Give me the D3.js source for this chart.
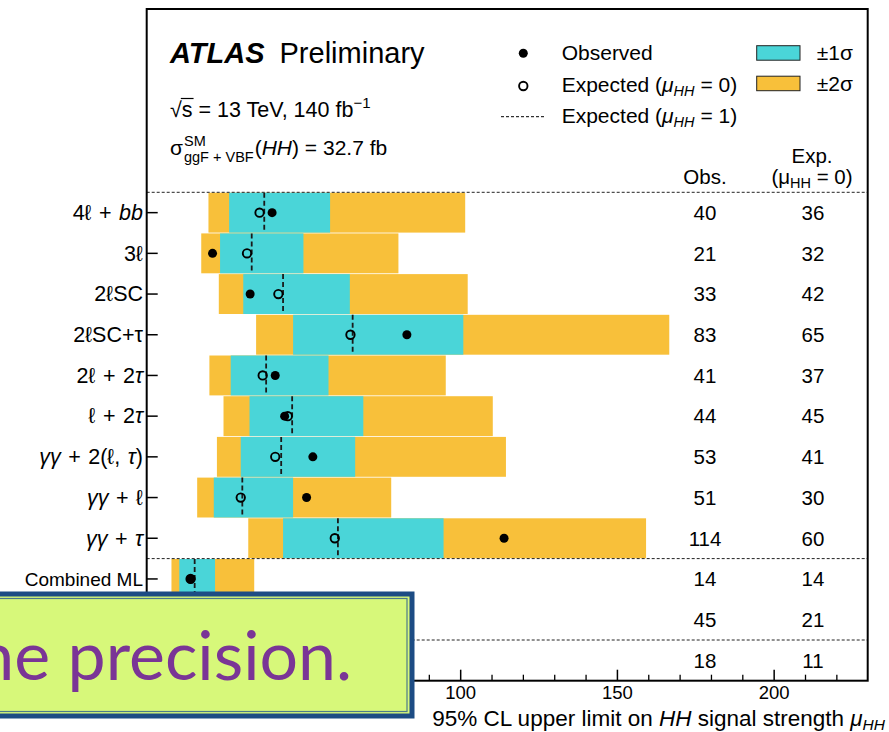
<!DOCTYPE html>
<html>
<head>
<meta charset="utf-8">
<script src="https://cdn.jsdelivr.net/npm/d3@7"></script>
<style>
  body { margin: 0; background: #fff; }
  svg { display: block; }
  text { font-family: "Liberation Sans", Arial, Helvetica, sans-serif; fill: #000; }
</style>
</head>
<body>
<svg id="chart" width="889" height="732"></svg>
<script>
// Analysis channels (rich text: <i>..</i> = italic)
const channels = [
  "4ℓ + <i>bb</i>", "3ℓ", "2ℓSC", "2ℓSC+τ", "2ℓ + 2<i>τ</i>", "ℓ + 2<i>τ</i>",
  "<i>γγ</i> + 2(ℓ, <i>τ</i>)", "<i>γγ</i> + ℓ", "<i>γγ</i> + <i>τ</i>",
  "Combined ML", "Combined CB", "Combined"
];
// Labels drawn in plain text (not math) style
const plainLabels = ["Combined ML", "Combined CB", "Combined"];
// 95% CL upper limits on mu_HH
const observed    = [40, 21, 33, 83, 41, 44, 53, 51, 114, 14, 45, 18];
const expectedBkg = [36, 32, 42, 65, 37, 45, 41, 30, 60, 14, 21, 11];   // mu_HH = 0
const expectedSig = [37.5, 33.5, 43.5, 65.7, 38.1, 46.4, 42.9, 30.5, 61, 15.3, 22.5, 11.8]; // mu_HH = 1
// Expected (mu_HH = 0) bands
const minus2sigma = [19.7, 17.4, 23, 34.9, 20, 24.5, 22.4, 16.1, 32.4, 7.9, 11.3, 5.9];
const minus1sigma = [26.3, 23.4, 30.8, 46.7, 26.8, 32.8, 30, 21.4, 43.5, 10.4, 15.1, 7.9];
const plus1sigma  = [58.5, 50, 64.8, 101, 58, 69.1, 66.5, 46.7, 94.7, 21.8, 31.5, 16.5];
const plus2sigma  = [101.6, 80.3, 102.4, 166.7, 95.4, 110.4, 114.6, 78, 159.3, 34.3, 44, 24];
// Axis
const majorTicks = [0, 50, 100, 150, 200];
const minorTicks = [10, 20, 30, 40, 60, 70, 80, 90, 110, 120, 130, 140, 160, 170, 180, 190, 210, 220];
// Groups separated by dashed rules (index of first row of each group)
const groupStarts = [0, 9, 11];

const C1 = "#4ad5d8", C2 = "#f8c03a";
const svg = d3.select("#chart");
const frame = { l: 146.7, t: 9, r: 867.7, b: 680.7 };

const x = d3.scaleLinear().domain([0, 230]).range([frame.l, frame.r]);
const y = d3.scaleBand().domain(d3.range(channels.length))
  .range([192.3, frame.b]).paddingInner(0.02).paddingOuter(0.01);
const yc = i => y(i) + y.bandwidth() / 2;

// rich text helper
function rich(sel, str) {
  const re = /<i>(.*?)<\/i>/g;
  let last = 0, m;
  while ((m = re.exec(str)) !== null) {
    if (m.index > last) sel.append("tspan").text(str.slice(last, m.index));
    sel.append("tspan").attr("font-style", "italic").text(m[1]);
    last = re.lastIndex;
  }
  if (last < str.length) sel.append("tspan").text(str.slice(last));
}

const rows = d3.range(channels.length);
const plot = svg.append("g");

// +-2 sigma band
plot.selectAll("rect.b2").data(rows).join("rect")
  .attr("x", i => x(minus2sigma[i])).attr("width", i => x(plus2sigma[i]) - x(minus2sigma[i]))
  .attr("y", i => y(i)).attr("height", y.bandwidth()).attr("fill", C2);
// +-1 sigma band
plot.selectAll("rect.b1").data(rows).join("rect")
  .attr("x", i => x(minus1sigma[i])).attr("width", i => x(plus1sigma[i]) - x(minus1sigma[i]))
  .attr("y", i => y(i)).attr("height", y.bandwidth()).attr("fill", C1);
// expected mu_HH = 1
plot.selectAll("line.esig").data(rows).join("line")
  .attr("x1", i => x(expectedSig[i])).attr("x2", i => x(expectedSig[i]))
  .attr("y1", i => y(i)).attr("y2", i => y(i) + y.bandwidth())
  .attr("stroke", "#1a1a1a").attr("stroke-width", 1.8).attr("stroke-dasharray", "5,3");
// expected mu_HH = 0
plot.selectAll("circle.exp").data(rows).join("circle")
  .attr("cx", i => x(expectedBkg[i])).attr("cy", yc).attr("r", 4.2)
  .attr("fill", "none").attr("stroke", "#000").attr("stroke-width", 1.9);
// observed
plot.selectAll("circle.obs").data(rows).join("circle")
  .attr("cx", i => x(observed[i])).attr("cy", yc).attr("r", 4.5).attr("fill", "#000");

// dashed group separators
const step = y.step();
groupStarts.forEach(s => {
  const yy = y.range()[0] + s * step;
  svg.append("line").attr("x1", frame.l).attr("x2", frame.r).attr("y1", yy).attr("y2", yy)
    .attr("stroke", "#222").attr("stroke-width", 1).attr("stroke-dasharray", "3,2");
});

// values columns
const cols = svg.append("g").attr("font-size", 20.5).attr("text-anchor", "middle");
rows.forEach(i => {
  cols.append("text").attr("x", 705).attr("y", yc(i) + 7.3).text(observed[i]);
  cols.append("text").attr("x", 813).attr("y", yc(i) + 7.3).text(expectedBkg[i]);
});
cols.append("text").attr("x", 705).attr("y", 184).text("Obs.");
cols.append("text").attr("x", 812).attr("y", 163).text("Exp.");
const eh = cols.append("text").attr("x", 812).attr("y", 184);
eh.append("tspan").text("(μ");
eh.append("tspan").attr("font-size", 14.5).attr("dy", 4).text("HH");
eh.append("tspan").attr("dy", -4).text(" = 0)");

// y axis ticks + labels
const yl = svg.append("g");
rows.forEach(i => {
  yl.append("line").attr("x1", frame.l).attr("x2", frame.l + 11).attr("y1", yc(i)).attr("y2", yc(i))
    .attr("stroke", "#000").attr("stroke-width", 1.5);
  const plain = plainLabels.includes(channels[i]);
  const t = yl.append("text").attr("x", 143).attr("y", yc(i) + (plain ? 6.8 : 7.3))
    .attr("text-anchor", "end").attr("font-size", plain ? 19 : 21.5)
    .attr("word-spacing", plain ? 0 : 1.5);
  rich(t, channels[i]);
});

// x axis (ticks inside)
const xa = svg.append("g").attr("transform", `translate(0,${frame.b})`);
xa.call(d3.axisBottom(x).tickValues(majorTicks).tickSize(-11).tickPadding(5.5).tickFormat(d3.format("d")))
  .call(g => g.select(".domain").remove())
  .call(g => g.selectAll("text").attr("font-size", 18.5).attr("font-family", "Liberation Sans, Arial, sans-serif").attr("fill", "#000"))
  .call(g => g.selectAll("line").attr("stroke-width", 1.5));
const xm = svg.append("g").attr("transform", `translate(0,${frame.b})`);
xm.call(d3.axisBottom(x).tickValues(minorTicks).tickSize(-6).tickFormat(""))
  .call(g => g.select(".domain").remove())
  .call(g => g.selectAll("line").attr("stroke-width", 1.3));

// axis title
const xt = svg.append("text").attr("x", 885).attr("y", 726).attr("text-anchor", "end").attr("font-size", 22.5);
xt.append("tspan").text("95% CL upper limit on ");
xt.append("tspan").attr("font-style", "italic").text("HH");
xt.append("tspan").text(" signal strength ");
xt.append("tspan").attr("font-style", "italic").text("μ");
xt.append("tspan").attr("font-style", "italic").attr("font-size", 15.5).attr("dy", 4).text("HH");

// frame
svg.append("rect").attr("x", frame.l).attr("y", frame.t)
  .attr("width", frame.r - frame.l).attr("height", frame.b - frame.t)
  .attr("fill", "none").attr("stroke", "#000").attr("stroke-width", 2);

// ATLAS label
const at = svg.append("text").attr("x", 170).attr("y", 63).attr("font-size", 29);
at.append("tspan").attr("font-weight", "bold").attr("font-style", "italic").text("ATLAS");
at.append("tspan").attr("dx", 15).text("Preliminary");

// sqrt(s) line
const lum = svg.append("text").attr("x", 170).attr("y", 116.5).attr("font-size", 21.5);
lum.append("tspan").text("√");
lum.append("tspan").text("s");
lum.append("tspan").text(" = 13 TeV, 140 fb");
lum.append("tspan").attr("font-size", 15).attr("dy", -9).text("−1");
{
  const n = lum.node();
  const a = n.getStartPositionOfChar(1).x, b = n.getEndPositionOfChar(1).x;
  svg.append("line").attr("x1", a - 1).attr("x2", b + 1).attr("y1", 98.5).attr("y2", 98.5)
    .attr("stroke", "#000").attr("stroke-width", 1.2);
}

// cross-section line
{
  const sg = svg.append("text").attr("x", 170).attr("y", 155).attr("font-size", 21).text("σ");
  const w = sg.node().getComputedTextLength();
  const sup = svg.append("text").attr("x", 170 + w + 1).attr("y", 146).attr("font-size", 14.5).text("SM");
  const sub = svg.append("text").attr("x", 170 + w + 1).attr("y", 162).attr("font-size", 14.5).text("ggF + VBF");
  const w2 = Math.max(sup.node().getComputedTextLength(), sub.node().getComputedTextLength());
  const rest = svg.append("text").attr("x", 170 + w + 2 + w2).attr("y", 155).attr("font-size", 21);
  rest.append("tspan").text("(");
  rest.append("tspan").attr("font-style", "italic").text("HH");
  rest.append("tspan").text(") = 32.7 fb");
}

// legend
const lg = svg.append("g").attr("font-size", 21);
lg.append("circle").attr("cx", 523.3).attr("cy", 53.3).attr("r", 4.5).attr("fill", "#000");
lg.append("text").attr("x", 561.7).attr("y", 60).text("Observed");
lg.append("circle").attr("cx", 523.3).attr("cy", 86).attr("r", 4.2).attr("fill", "none")
  .attr("stroke", "#000").attr("stroke-width", 1.9);
function expLabel(yy, v) {
  const t = lg.append("text").attr("x", 561.7).attr("y", yy);
  t.append("tspan").text("Expected (");
  t.append("tspan").attr("font-style", "italic").text("μ");
  t.append("tspan").attr("font-style", "italic").attr("font-size", 14.5).attr("dy", 4).text("HH");
  t.append("tspan").attr("dy", -4).text(` = ${v})`);
}
expLabel(92, 0);
lg.append("line").attr("x1", 501).attr("x2", 544).attr("y1", 116.7).attr("y2", 116.7)
  .attr("stroke", "#000").attr("stroke-width", 1).attr("stroke-dasharray", "3,2");
expLabel(123, 1);
lg.append("rect").attr("x", 756.7).attr("y", 45.7).attr("width", 43.3).attr("height", 14.5)
  .attr("fill", C1).attr("stroke", "#222").attr("stroke-width", 1);
lg.append("rect").attr("x", 756.7).attr("y", 76.2).attr("width", 43.3).attr("height", 14.5)
  .attr("fill", C2).attr("stroke", "#222").attr("stroke-width", 1);
lg.append("text").attr("x", 816.7).attr("y", 60).text("±1σ");
lg.append("text").attr("x", 816.7).attr("y", 91).text("±2σ");

// caption banner
const bn = svg.append("g");
bn.append("rect").attr("x", -10).attr("y", 594).attr("width", 422).attr("height", 122)
  .attr("fill", "#d7f87a").attr("stroke", "#1d4c84").attr("stroke-width", 5);
bn.append("rect").attr("x", -10).attr("y", 598.5).attr("width", 417).attr("height", 113)
  .attr("fill", "none").attr("stroke", "#2a5a8e").attr("stroke-width", 1.2).attr("opacity", 0.8);
bn.append("text").attr("x", 352).attr("y", 680).attr("text-anchor", "end")
  .style("font-family", "Lato, 'Open Sans', sans-serif").attr("font-size", 68)
  .style("fill", "#7a3596").text("he precision.");
</script>
</body>
</html>
